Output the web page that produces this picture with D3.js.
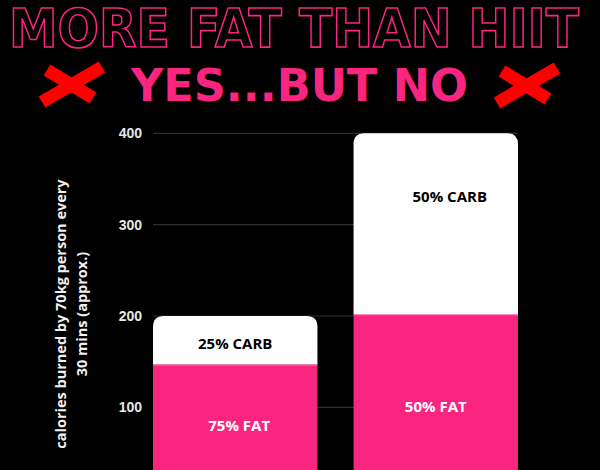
<!DOCTYPE html>
<html><head><meta charset="utf-8">
<script src="https://cdn.jsdelivr.net/npm/d3@7"></script>
<style>html,body{margin:0;padding:0;background:#000;}svg{display:block;}</style>
</head><body>
<svg id="c" width="600" height="470"></svg>
<script>
const categories = ["Low intensity", "HIIT"];
const fatValues = [147, 202];
const carbValues = [53, 198];
const fatLabels = ["75% FAT", "50% FAT"];
const carbLabels = ["25% CARB", "50% CARB"];
const fatLabelAt = [80, 101];
const carbLabelAt = [170, 330];
const yTicks = [100, 200, 300, 400];
const title = "MORE FAT THAN HIIT";
const subtitle = "YES...BUT NO";
const yLabelLines = ["calories burned by 70kg person every", "30 mins (approx.)"];

const PINK = "#f9257f";
const svg = d3.select("#c");
const x = d3.scaleBand().domain(categories).range([153, 518]).paddingInner(0.18).paddingOuter(0);
const y = d3.scaleLinear().domain([0, 400]).range([498.7, 133.3]);

// gridlines
svg.append("g").selectAll("line").data(yTicks).join("line")
  .attr("x1", 153).attr("x2", 518)
  .attr("y1", d => y(d)).attr("y2", d => y(d))
  .attr("stroke", "#2e2e2e").attr("stroke-width", 1.2);

// y axis ticks via d3 axis
const ax = svg.append("g").attr("transform", "translate(142,0)")
  .call(d3.axisLeft(y).tickValues(yTicks).tickSize(0).tickPadding(0));
ax.select(".domain").remove();
ax.selectAll("text").attr("fill", "#e6e6e6").attr("font-family", "'Liberation Sans', Arial, sans-serif")
  .attr("font-weight", 700).attr("font-size", 14).attr("text-anchor", "end");

// y label
const yl = svg.append("text").attr("transform", "translate(0,314) rotate(-90)")
  .attr("text-anchor", "middle").attr("fill", "#f0f0f0")
  .attr("font-family", "'Open Sans', sans-serif").attr("font-weight", 700).attr("font-size", 14.5);
yLabelLines.forEach((t, i) => yl.append("tspan").attr("x", 0).attr("y", 66 + i * 21).text(t));

// bars
const r = 11;
categories.forEach((c, i) => {
  const x0 = x(c), w = x.bandwidth();
  const yb = y(fatValues[i]), yt = y(fatValues[i] + carbValues[i]);
  svg.append("path").attr("fill", "#fff")
    .attr("d", `M${x0},${yb} V${yt + r} Q${x0},${yt} ${x0 + r},${yt} H${x0 + w - r} Q${x0 + w},${yt} ${x0 + w},${yt + r} V${yb} Z`);
  svg.append("rect").attr("x", x0).attr("y", yb).attr("width", w).attr("height", y(0) - yb).attr("fill", PINK);
  svg.append("line").attr("x1", x0).attr("x2", x0 + w).attr("y1", yb + 0.5).attr("y2", yb + 0.5)
    .attr("stroke", "#fb9cc3").attr("stroke-width", 1);
});

// bar labels
const lblFont = "'Open Sans', Lato, sans-serif";
svg.append("g").selectAll("text").data(categories).join("text")
  .attr("x", (d, i) => x(d) + x.bandwidth() / 2 + (i === 1 ? 14 : 0))
  .attr("y", (d, i) => y(carbLabelAt[i])).attr("dy", "0.35em")
  .attr("text-anchor", "middle").attr("fill", "#000")
  .attr("font-family", lblFont).attr("font-weight", 700).attr("font-size", 15)
  .text((d, i) => carbLabels[i]);
svg.append("g").selectAll("text").data(categories).join("text")
  .attr("x", (d, i) => x(d) + x.bandwidth() / 2 + (i === 0 ? 4 : 0))
  .attr("y", (d, i) => y(fatLabelAt[i])).attr("dy", "0.35em")
  .attr("text-anchor", "middle").attr("fill", "#fff")
  .attr("font-family", lblFont).attr("font-weight", 700).attr("font-size", 15)
  .text((d, i) => fatLabels[i]);

// title
svg.append("text").attr("x", 9).attr("y", 47)
  .attr("textLength", 570).attr("lengthAdjust", "spacingAndGlyphs")
  .attr("font-family", "'DejaVu Sans', sans-serif").attr("font-weight", 700).attr("font-size", 53)
  .attr("fill", "#000").attr("stroke", PINK).attr("stroke-width", 1.6)
  .text(title);

svg.append("text").attr("x", 131).attr("y", 100.5)
  .attr("textLength", 337).attr("lengthAdjust", "spacingAndGlyphs")
  .attr("font-family", "'DejaVu Sans Condensed', 'DejaVu Sans', sans-serif").attr("font-weight", 700).attr("font-size", 45)
  .attr("fill", PINK)
  .text(subtitle);

// red X marks
function cross(cx, cy) {
  const g = svg.append("g").attr("transform", `translate(${cx},${cy})`);
  g.append("line").attr("x1", -25).attr("y1", -14).attr("x2", 21).attr("y2", 14)
    .attr("stroke", "#ff0000").attr("stroke-width", 13).attr("stroke-linecap", "butt");
  g.append("line").attr("x1", 30).attr("y1", -17).attr("x2", -30).attr("y2", 18)
    .attr("stroke", "#ff0000").attr("stroke-width", 13).attr("stroke-linecap", "butt");
}
cross(72, 84);
cross(527, 85);
</script>
</body></html>
